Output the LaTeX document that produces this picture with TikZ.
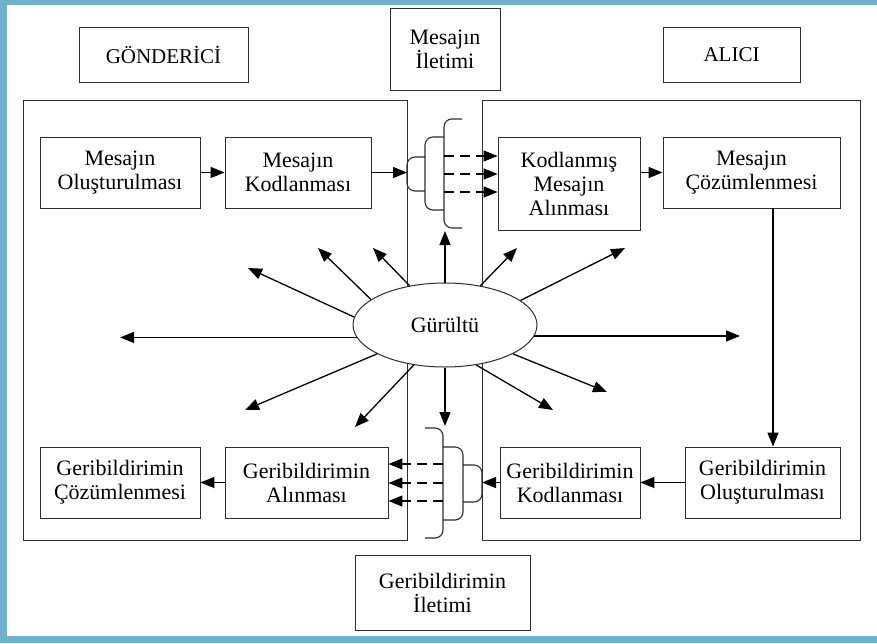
\documentclass[tikz,border=0pt]{standalone}
\usepackage{fontspec}
\setmainfont{Liberation Serif}
\usetikzlibrary{arrows.meta,shapes.geometric}
\definecolor{frameblue}{RGB}{112,176,202}
\definecolor{linecol}{RGB}{45,45,45}
\begin{document}
\begin{tikzpicture}[x=1pt,y=-1pt,
  box/.style={draw=linecol,line width=0.9pt,align=center,inner sep=2pt,font=\fontsize{22}{24}\selectfont},
  bigbox/.style={draw=linecol,line width=0.9pt,inner sep=0pt},
  ttl/.style={box,font=\fontsize{21}{24}\selectfont},
  arr/.style={line width=1.3pt,draw=black,-{Triangle[length=14pt,width=11pt]}},
  darr/.style={arr,dash pattern=on 10pt off 6pt},
  brk/.style={line width=1.1pt,draw=linecol,rounded corners=8pt}]
\fill[frameblue] (0,0) rectangle (877,643);
\fill[white] (7,5) rectangle (877,636);
\useasboundingbox (0,0) rectangle (877,643);

% title boxes
\node[ttl,minimum width=169pt,minimum height=55pt] (gon) at (163.5,54.5) {GÖNDERİCİ};
\node[box,minimum width=110pt,minimum height=82pt] (mil) at (445,49) {Mesajın\\İletimi};
\node[ttl,minimum width=137pt,minimum height=55pt] (alici) at (731.5,54.5) {ALICI};
\node[box,minimum width=175pt,minimum height=75pt] (gil) at (442.5,592.5) {Geribildirimin\\İletimi};

% big boxes
\node[bigbox,minimum width=384pt,minimum height=440pt] (lbig) at (215,320) {};
\node[bigbox,minimum width=378pt,minimum height=440pt] (rbig) at (671,320) {};

% inner boxes
\node[box,minimum width=160pt,minimum height=71pt] (mo) at (120,172.5) {Mesajın\\Oluşturulması};
\node[box,minimum width=146pt,minimum height=71pt] (mk) at (298,172.5) {Mesajın\\Kodlanması};
\node[box,minimum width=142pt,minimum height=93pt] (kma) at (569,183.5) {Kodlanmış\\Mesajın\\Alınması};
\node[box,minimum width=177pt,minimum height=71pt] (mc) at (751.5,172.5) {Mesajın\\Çözümlenmesi};
\node[box,minimum width=160pt,minimum height=71pt] (gc) at (120,482.5) {Geribildirimin\\Çözümlenmesi};
\node[box,minimum width=163pt,minimum height=71pt] (ga) at (306.5,482.5) {Geribildirimin\\Alınması};
\node[box,minimum width=140pt,minimum height=71pt] (gk) at (570,482.5) {Geribildirimin\\Kodlanması};
\node[box,minimum width=155pt,minimum height=71pt] (go) at (762.5,482.5) {Geribildirimin\\Oluşturulması};

% noise ellipse
\node[draw=linecol,line width=1pt,ellipse,fill=white,minimum width=184pt,minimum height=84pt,inner sep=0pt,font=\fontsize{22}{26}\selectfont] (g) at (445,325) {Gürültü};

% top bracket
\draw[brk] (425,157) -- (407,157) -- (407,191) -- (425,191);
\draw[brk] (444,137) -- (425,137) -- (425,210) -- (444,210);
\draw[brk] (462,119) -- (444,119) -- (444,228) -- (462,228);
\coordinate (tin) at (407,172.5);
\coordinate (td1) at (444,156);
\coordinate (td2) at (444,174);
\coordinate (td3) at (444,192);

% bottom bracket
\draw[brk] (425,428) -- (443,428) -- (443,538) -- (425,538);
\draw[brk] (443,447) -- (463,447) -- (463,520) -- (443,520);
\draw[brk] (463,465) -- (482,465) -- (482,502) -- (463,502);
\coordinate (bin) at (482,482.5);
\coordinate (bd1) at (443,464);
\coordinate (bd2) at (443,483);
\coordinate (bd3) at (443,501);

% message flow
\draw[arr] (mo.east) -- (mk.west);
\draw[arr] (mk.east) -- (tin);
\draw[darr] (td1) -- (td1 -| kma.west);
\draw[darr] (td2) -- (td2 -| kma.west);
\draw[darr] (td3) -- (td3 -| kma.west);
\draw[arr] (kma.east |- mc.west) -- (mc.west);
\coordinate (vx) at (773,0);
\draw[arr] (mc.south -| vx) -- (go.north -| vx);
\draw[arr] (go.west) -- (gk.east);
\draw[arr] (gk.west) -- (bin);
\draw[darr] (bd1) -- (bd1 -| ga.east);
\draw[darr] (bd2) -- (bd2 -| ga.east);
\draw[darr] (bd3) -- (bd3 -| ga.east);
\draw[arr] (ga.west) -- (gc.east);

% noise arrows
\coordinate (nl) at (120,0);
\coordinate (nr) at (740,0);
\draw[arr] (g.188) -- (g.188 -| nl);
\draw[arr] (g.-7) -- (g.-7 -| nr);
\coordinate (nup) at (445,231);
\coordinate (ndn) at (445,426);
\draw[arr] (g.north) -- (nup);
\draw[arr] (g.south) -- (ndn);
\coordinate (n1) at (248,268);
\coordinate (n2) at (318,248);
\coordinate (n3) at (373,248);
\coordinate (n4) at (517,248);
\coordinate (n5) at (625,248);
\coordinate (n6) at (607,392);
\coordinate (n7) at (553,410);
\coordinate (n8) at (355,427);
\coordinate (n9) at (245,410);
\draw[arr] (g.175.6) -- (n1);
\draw[arr] (g.161.6) -- (n2);
\draw[arr] (g.132) -- (n3);
\draw[arr] (g.48.6) -- (n4);
\draw[arr] (g.18.2) -- (n5);
\draw[arr] (g.-23) -- (n6);
\draw[arr] (g.-52) -- (n7);
\draw[arr] (g.-128) -- (n8);
\draw[arr] (g.-157) -- (n9);
\end{tikzpicture}
\end{document}
